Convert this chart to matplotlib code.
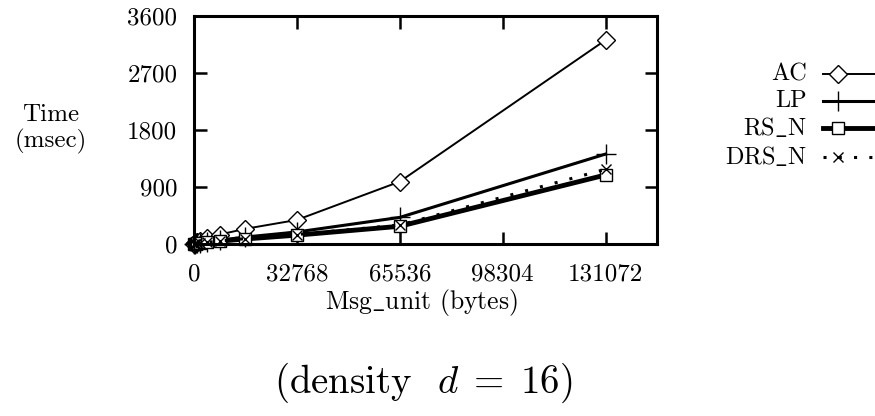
import matplotlib
matplotlib.use("Agg")
import matplotlib.pyplot as plt
from matplotlib.lines import Line2D

plt.rcParams['font.family'] = 'cmr10'
plt.rcParams['mathtext.fontset'] = 'cm'
plt.rcParams['axes.formatter.use_mathtext'] = True

msg_unit = [128, 256, 512, 1024, 2048, 4096, 8192, 16384, 32768, 65536, 131072]
ac = [6, 10, 16, 28, 55, 100, 150, 240, 380, 985, 3220]
lp = [4, 6, 9, 14, 22, 35, 60, 110, 190, 420, 1420]
rs_n = [3, 4, 6, 9, 15, 25, 45, 80, 140, 280, 1090]
drs_n = [3, 4, 6, 10, 16, 26, 47, 85, 150, 300, 1180]

xticks = [0, 32768, 65536, 98304, 131072]
yticks = [0, 900, 1800, 2700, 3600]

W, H = 875, 416
fig = plt.figure(figsize=(8.75, 4.16), dpi=100)
ax = fig.add_axes([194/W, 1-244/H, 463/W, 228/H])

styles = [
    dict(color='black', lw=1.4, marker='D', ms=9, mfc='white', mec='black', mew=1.0),
    dict(color='black', lw=2.2, marker='+', ms=15, mew=1.0),
    dict(color='black', lw=3.5, marker='s', ms=8.5, mfc='white', mec='black', mew=1.0),
    dict(color='black', lw=2.2, ls=(0, (1, 4)), marker='x', ms=7.5, mew=1.0),
]
series = [ac, lp, rs_n, drs_n]
labels = ['AC', 'LP', 'RS$\\_$N', 'DRS$\\_$N']

for ys, st, lab in zip(series, styles, labels):
    ax.plot(msg_unit, ys, label=lab, clip_on=False, **st)

ax.set_xlim(0, 147456)
ax.set_ylim(0, 3600)
ax.set_xticks(xticks)
ax.set_xticklabels([str(t) for t in xticks])
ax.set_yticks(yticks)
ax.set_yticklabels([str(t) for t in yticks])
ax.tick_params(direction='in', length=9, width=1.8, labelsize=18, top=True, right=True)
ax.tick_params(axis='y', pad=12)
ax.tick_params(axis='x', pad=14)
for s in ax.spines.values():
    s.set_linewidth(2.2)

fig.text(51/W, 1-129/H, 'Time\n(msec)', ha='center', va='center', fontsize=18, linespacing=1.15)
fig.text(421/W, 1-303/H, 'Msg$\\_$unit (bytes)', ha='center', va='center', fontsize=18.5)
fig.text(423/W, 1-383/H, '(density  $d\\;=\\;16$)', ha='center', va='center', fontsize=28)

# legend drawn manually in figure pixel coordinates
leg_y = [74, 101, 128, 157]
for y, st, lab in zip(leg_y, styles, labels):
    yf = 1 - y/H
    fig.text(807/W, yf, lab, ha='right', va='center', fontsize=17.5)
    line_st = {k: v for k, v in st.items() if not k.startswith('m')}
    fig.add_artist(Line2D([823/W, 875/W], [yf, yf], transform=fig.transFigure, **line_st))
    mk_st = {k: v for k, v in st.items() if k.startswith('m')}
    fig.add_artist(Line2D([838/W], [yf], transform=fig.transFigure, ls='none', color='black', **mk_st))

fig.savefig('out.png', dpi=100)
